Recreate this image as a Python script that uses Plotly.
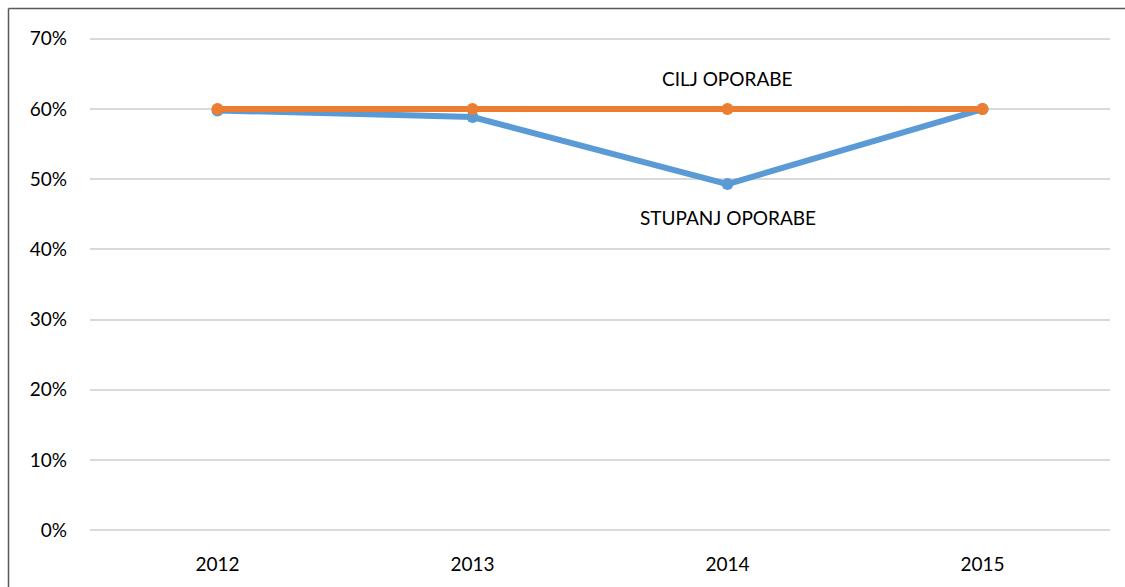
import plotly.graph_objects as go

years = ["2012", "2013", "2014", "2015"]
stupanj = [0.598, 0.5885, 0.493, 0.60]
cilj = [0.60, 0.60, 0.60, 0.60]
y_ticks = [0, 0.1, 0.2, 0.3, 0.4, 0.5, 0.6, 0.7]
y_labels = ["0%", "10%", "20%", "30%", "40%", "50%", "60%", "70%"]

BLUE = "#5B9BD5"
ORANGE = "#ED7D31"
FONT = "Lato"
FS = 19

fig = go.Figure()
fig.add_trace(go.Scatter(x=years, y=stupanj, mode="lines+markers", name="STUPANJ OPORABE",
                         line=dict(color=BLUE, width=6), marker=dict(size=12, color=BLUE)))
fig.add_trace(go.Scatter(x=years, y=cilj, mode="lines+markers", name="CILJ OPORABE",
                         line=dict(color=ORANGE, width=6), marker=dict(size=12, color=ORANGE)))

W, H = 1125, 587
L, R, T, B = 90, 15, 36, 54
pw, ph = W - L - R, H - T - B

fig.add_annotation(xref="paper", yref="paper", x=0.625, y=(ph - (78 - T)) / ph,
                   xanchor="center", yanchor="middle",
                   text="CILJ OPORABE", showarrow=False,
                   font=dict(family=FONT, size=FS, color="#000000"))
fig.add_annotation(xref="paper", yref="paper", x=0.625, y=(ph - (218 - T)) / ph,
                   xanchor="center", yanchor="middle",
                   text="STUPANJ OPORABE", showarrow=False,
                   font=dict(family=FONT, size=FS, color="#000000"))

# frame: left and top edges only (right/bottom lie outside the picture)
bx0 = -(L - 8.5) / pw
by1 = 1 + (T - 8.5) / ph
fig.add_shape(type="line", xref="paper", yref="paper", x0=bx0, x1=bx0, y0=-(B + 10) / ph, y1=by1,
              line=dict(color="#595959", width=1.5), layer="above")
fig.add_shape(type="line", xref="paper", yref="paper", x0=bx0, x1=(pw + R + 10) / pw, y0=by1, y1=by1,
              line=dict(color="#595959", width=1.5), layer="above")

fig.update_layout(
    width=W, height=H,
    margin=dict(l=L, r=R, t=T, b=B),
    paper_bgcolor="white", plot_bgcolor="white",
    showlegend=False,
    font=dict(family=FONT, size=FS, color="#000000"),
    xaxis=dict(type="category", range=[-0.5, 3.5], showgrid=False, zeroline=False,
               showline=False, ticks="", ticklabelstandoff=18,
               tickfont=dict(family=FONT, size=FS, color="#000000")),
    yaxis=dict(range=[-0.004, 0.704], tickvals=y_ticks, ticktext=y_labels, showgrid=True,
               gridcolor="#D9D9D9", gridwidth=1.5, zeroline=False, showline=False, ticks="",
               ticklabelstandoff=22, tickfont=dict(family=FONT, size=FS, color="#000000")),
)
fig.write_html("out.html", config={"displayModeBar": False},
               post_script="document.body.style.margin='0';")
